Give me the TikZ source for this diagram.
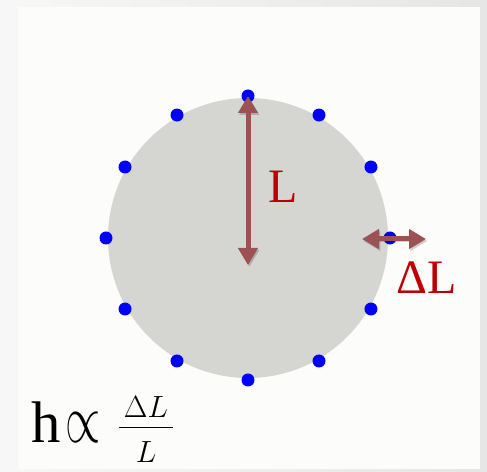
\RequirePackage{fix-cm}
\documentclass[tikz,border=0pt]{standalone}
\usepackage{graphicx}
\usepackage[no-math]{fontspec}
\setmainfont{Liberation Serif}
\usetikzlibrary{arrows.meta, positioning, calc}

\definecolor{strainred}{RGB}{156,82,82}
\definecolor{labelred}{RGB}{192,0,0}
\definecolor{ringgray}{RGB}{213,214,210}
\definecolor{panelwhite}{RGB}{252,253,251}

\begin{document}
\begin{tikzpicture}[
    x=0.75pt, y=0.75pt,
    >={Triangle[length=12.75pt, width=14.25pt]},
    mass/.style={circle, fill=blue, inner sep=0pt, minimum size=9.75pt},
    strain/.style={<->, line width=3.75pt, draw=strainred,
        preaction={draw=black, opacity=.18, transform canvas={shift={(1pt,-1.5pt)}}}},
    lbl/.style={text=labelred, inner sep=0pt, font=\fontsize{36}{40}\selectfont},
    eqn/.style={inner sep=0pt, text=black}
]
\useasboundingbox (0,0) rectangle (487,472);

% Slide background
\shade[left color=black!3, right color=black!10] (0,0) rectangle (487,472);
\fill[panelwhite] (18,3) rectangle (480,465);

% ==================== Ring of test masses ====================
\coordinate (ctr) at (248,234);
\fill[ringgray] (ctr) circle (140);

\foreach \a in {0,30,...,330}
    \node[mass] (m\a) at ($(ctr)+(\a:142)$) {};

% Strain arrows
\coordinate (vbot) at (248,207);
\coordinate (hl) at (362,233);
\coordinate (hr) at (426,233);

\draw[strain] (m90.center) -- (vbot);
\draw[strain] (hl) -- (hr);

\node[lbl, anchor=base west] (len) at (268,269) {L};
\node[lbl, anchor=base west] (dlen) at (396,178) {ΔL};

% ==================== Formula ====================
\node[eqn, anchor=base west, font=\fontsize{44}{48}\selectfont] (prop) at (31,29)
    {h\hspace{4pt}\scalebox{.85}[1.3]{\fontsize{40}{44}\selectfont$\propto$}};
\node[eqn, anchor=base, font=\fontsize{23}{26}\selectfont] (ratio) at (146,37.3)
    {$\displaystyle\frac{\raisebox{-3pt}[\height][0pt]{$\mkern3mu\Delta L\mkern3mu$}}{\raisebox{-5pt}[\height][0pt]{$L$}}$};

\end{tikzpicture}
\end{document}
